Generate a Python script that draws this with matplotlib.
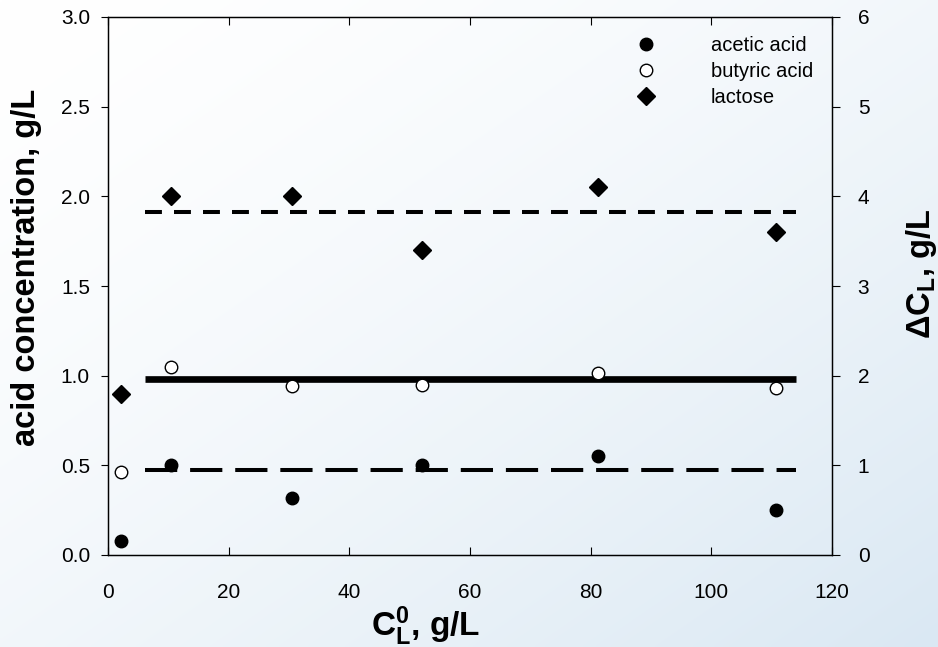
import numpy as np
import matplotlib
matplotlib.use("Agg")
import matplotlib.pyplot as plt
from matplotlib.lines import Line2D

plt.rcParams['font.family'] = ['Liberation Sans', 'DejaVu Sans']
plt.rcParams['mathtext.fontset'] = 'custom'
plt.rcParams['mathtext.rm'] = 'Liberation Sans'
plt.rcParams['mathtext.bf'] = 'Liberation Sans:bold'
plt.rcParams['mathtext.it'] = 'Liberation Sans:italic'

# Data
c0 = [2.2, 10.4, 30.5, 52.0, 81.2, 110.8]
acetic = [0.08, 0.50, 0.32, 0.50, 0.55, 0.25]
butyric = [0.465, 1.05, 0.945, 0.95, 1.015, 0.93]
lactose = [1.80, 4.00, 4.00, 3.40, 4.10, 3.60]

line_x = [6.1, 114.1]
acetic_mean = 0.474
butyric_mean = 0.98
lactose_mean = 3.82

xticks = [0, 20, 40, 60, 80, 100, 120]
yticks_left = [0.0, 0.5, 1.0, 1.5, 2.0, 2.5, 3.0]
yticks_right = [0, 1, 2, 3, 4, 5, 6]

W, H = 938, 647
fig = plt.figure(figsize=(W / 100, H / 100), dpi=100)

# gradient background
bg = fig.add_axes([0, 0, 1, 1], zorder=-10)
yy, xx = np.mgrid[0:1:200j, 0:1:300j]
t = ((xx + yy) / 2.0) ** 1.5
c_end = np.array([218, 232, 243]) / 255.0
img = (1 - t)[..., None] * np.ones(3) + t[..., None] * c_end
bg.imshow(img, aspect='auto', extent=[0, 1, 1, 0], interpolation='bilinear')
bg.axis('off')

ax = fig.add_axes([108 / W, 1 - 555 / H, (832 - 108) / W, (555 - 17) / H])
ax.patch.set_alpha(0)
ax2 = ax.twinx()
ax2.patch.set_alpha(0)

ax.set_xlim(0, 120)
ax.set_ylim(0, 3.0)
ax2.set_ylim(0, 6)

# mean lines
ax.plot(line_x, [acetic_mean] * 2, color='black', lw=2.9, dashes=(8, 3.2))
ax.plot(line_x, [butyric_mean] * 2, color='black', lw=4.8, solid_capstyle='butt')
ax2.plot(line_x, [lactose_mean] * 2, color='black', lw=2.9, dashes=(4.2, 3))

# points
ax.plot(c0, acetic, 'o', color='black', ms=9, ls='none')
ax.plot(c0, butyric, 'o', mfc='white', mec='black', mew=1.0, ms=9, ls='none')
ax2.plot(c0, lactose, 'D', color='black', ms=9, ls='none')

ax.set_xticks(xticks)
ax.set_yticks(yticks_left)
ax.set_yticklabels([f"{v:.1f}" for v in yticks_left])
ax2.set_yticks(yticks_right)

ax.tick_params(axis='x', direction='in', top=True, length=5.5, width=0.8, labelsize=15, pad=20)
ax.tick_params(axis='y', direction='out', length=5, width=0.8, labelsize=15, pad=8)
ax2.tick_params(axis='y', direction='out', length=5.5, width=0.8, labelsize=15, pad=13)

for a in (ax, ax2):
    for s in a.spines.values():
        s.set_linewidth(0.9)

ax.set_ylabel('acid concentration, g/L', fontsize=23.5, fontweight='bold')
ax.yaxis.set_label_coords(-0.091, 0.535)
ax2.set_ylabel(r'$\mathbf{\Delta C_L}$, g/L', fontsize=23.5, fontweight='bold')
ax2.yaxis.set_label_coords(1.1, 0.522)
ax.set_xlabel(r'$\mathbf{C^0_L}$, g/L', fontsize=24, fontweight='bold')
ax.xaxis.set_label_coords(0.438, -0.092)

handles = [
    Line2D([], [], marker='o', color='black', ls='none', ms=9),
    Line2D([], [], marker='o', mfc='white', mec='black', mew=1.0, ls='none', ms=9),
    Line2D([], [], marker='D', color='black', ls='none', ms=9),
]
ax.legend(handles, ['acetic acid', 'butyric acid', 'lactose'], loc='upper right',
          bbox_to_anchor=(0.974, 0.964), borderaxespad=0, borderpad=0,
          frameon=False, fontsize=14.5,
          handletextpad=2.7, labelspacing=0.35, handlelength=1.0)

fig.savefig('out.png', dpi=100)
